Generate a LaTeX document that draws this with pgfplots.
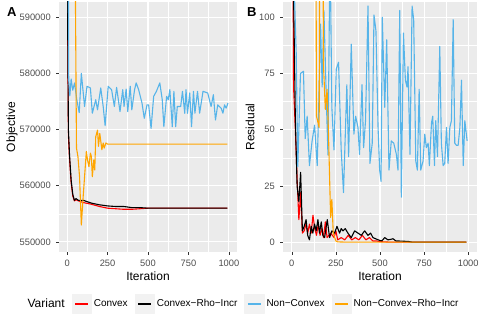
\documentclass[border=0pt]{standalone}
\usepackage{fontspec}
\setmainfont{Liberation Sans}
\usepackage{pgfplots}
\pgfplotsset{compat=1.18}
\definecolor{panelbg}{HTML}{EBEBEB}
\definecolor{tickc}{HTML}{333333}
\definecolor{labc}{HTML}{4D4D4D}
\definecolor{keybg}{HTML}{F2F2F2}
\definecolor{cred}{HTML}{FF0000}
\definecolor{cblue}{HTML}{56B4E9}
\definecolor{corange}{HTML}{FFA500}
\pgfplotsset{
 ggstyle/.style={
  scale only axis,
  axis background/.style={fill=panelbg},
  axis line style={draw=none},
  grid=both,
  major grid style={white, line width=1.1pt},
  minor grid style={white, line width=0.55pt},
  minor tick num=1,
  tick align=outside,
  xtick pos=bottom, ytick pos=left,
  tick style={color=tickc, line width=0.5pt},
  major tick length=2.75pt,
  minor tick length=0pt,
  ticklabel style={font=\fontsize{9.3}{11}\selectfont, text=labc},
  yticklabel style={xshift=-2pt},
  xticklabel style={yshift=-2pt},
  /pgf/number format/assume math mode=true,
  /pgf/number format/1000 sep={},
  /pgf/number format/fixed,
  scaled y ticks=false, scaled x ticks=false,
  label style={font=\fontsize{12}{14}\selectfont},
  xmin=-50, xmax=1050, xtick={0,250,500,750,1000},
  xlabel={Iteration},
  xlabel style={at={(axis description cs:0.5,-0.096)}, anchor=center},
  every axis plot/.append style={line width=1.1pt, line join=round},
 }
}
\begin{document}
\begin{tikzpicture}
\path[use as bounding box] (0,0) rectangle (480pt,320pt);
% Panel A
\begin{axis}[ggstyle,
  at={(59pt,68pt)}, anchor=south west,
  width=178pt, height=250pt,
  ymin=548200, ymax=592700,
  ytick={550000,560000,570000,580000,590000},
  ylabel={Objective},
  ylabel style={at={(axis description cs:-0.264,0.5)}, anchor=center},
]
\addplot[cred] coordinates {
(0,700000)(3,591000)(8,569000)(15,564800)(25,560500)(35,558200)(45,557300)(55,557500)(70,557300)(100,557000)(150,556700)(200,556300)(250,556000)(300,555900)(350,555800)(400,555800)(450,555900)(500,556000)(990,556000)};
\addplot[black] coordinates {
(0,700000)(3,592000)(8,570000)(15,565500)(25,561000)(35,558500)(45,557400)(55,557700)(70,557400)(100,557400)(150,556900)(200,556600)(250,556400)(300,556300)(350,556300)(400,556100)(450,556100)(500,556000)(600,556000)(700,556000)(800,556000)(990,556000)};
\addplot[cblue] coordinates {
(0,700000)(10,578800)(17,576000)(25,579000)(35,577000)(46,578300)(60,575300)(75,573000)(88,580000)(108,574100)(123,577700)(144,577400)(156,572900)(177,575300)(188,573500)(208,577400)(223,574100)(235,570700)(254,577700)(275,577100)(292,574100)(306,577500)(327,573200)(344,577100)(352,574100)(365,577200)(375,573200)(390,577700)(400,573500)(417,577100)(427,578300)(442,577100)(463,574700)(477,572000)(494,574400)(504,574400)(519,570200)(535,575900)(552,576800)(573,578300)(588,575300)(598,570500)(615,575900)(625,575300)(635,577100)(650,570500)(660,576800)(671,570500)(681,574100)(702,574100)(713,576800)(727,572900)(735,577100)(744,572900)(758,576500)(769,570500)(781,576800)(790,572900)(806,576800)(819,572900)(840,576800)(869,576500)(890,574100)(904,576200)(917,571700)(931,574400)(952,573800)(963,572900)(973,574400)(983,573800)(994,574700)};
\addplot[corange] coordinates {
(0,800000)(50,600000)(58,566700)(67,565200)(77,561600)(88,553000)(98,557500)(108,561600)(119,566100)(126,564600)(135,563400)(144,565800)(150,565200)(156,561600)(165,564600)(171,562800)(177,568700)(188,569900)(194,567000)(202,569300)(215,566400)(223,567600)(229,566700)(240,567600)(250,567400)(990,567400)};
\end{axis}
% Panel B
\begin{axis}[ggstyle,
  at={(283pt,68pt)}, anchor=south west,
  width=194pt, height=250pt,
  ymin=-4.4, ymax=106.8,
  ytick={0,25,50,75,100},
  ylabel={Residual},
  ylabel style={at={(axis description cs:-0.170,0.5)}, anchor=center},
  legend image code/.code={
    \fill[keybg] (0pt,-9.5pt) rectangle (19pt,9.5pt);
    \draw[#1] (3pt,0pt) -- (16pt,0pt);},
  legend style={at={(axis description cs:-0.206,-0.208)}, anchor=center,
    draw=none, fill=none, legend columns=5,
    font=\fontsize{10}{12}\selectfont,
    /tikz/every even column/.append style={column sep=5pt}},
  legend cell align=left,
]
\addlegendimage{empty legend}
\addlegendentry{\fontsize{12}{14}\selectfont Variant}
\addplot[cred] coordinates {
(0,250)(10,69)(20,50)(30,28)(40,10)(50,22)(60,4)(70,5)(80,8)(90,4)(100,8)(110,4)(120,12)(130,6)(140,3)(150,8)(160,3)(170,6)(180,2)(190,9)(200,2)(220,4)(240,2)(250,5)(260,1)(280,2)(300,1)(320,3)(340,1)(360,2)(380,1)(400,3)(420,1)(440,2)(460,0.5)(480,0.5)(500,0.2)(550,0)(990,0)};
\addlegendentry{Convex}
\addplot[black] coordinates {
(0,250)(10,110)(20,55)(30,25)(40,18)(50,31)(60,5)(70,7)(81,10)(90,3)(100,1)(110,7)(119,4)(129,8)(138,5)(148,10)(157,4)(167,9)(176,3)(186,2)(201,10)(214,2)(227,5)(242,4)(256,7)(271,4)(280,6)(290,5)(303,6)(318,4)(337,2)(356,5)(375,4)(394,3)(413,5)(432,3)(447,4)(460,2)(475,1.5)(489,1)(510,0.5)(527,2)(545,1)(560,1.2)(574,1.5)(590,0.5)(602,0.5)(630,0.4)(659,0.3)(680,0)(990,0)};
\addlegendentry{Convex\textminus Rho\textminus Incr}
\addplot[cblue] coordinates {
(0,300)(5,150)(15,110)(25,84)(34,33.5)(49,75)(66,76)(76,46)(87,56)(100,34)(115,45)(129,52)(144,34)(151,55)(163,97)(172,69)(182,103)(197,60)(205,38.7)(214,110)(220,110)(227,60)(239,41)(252,77)(265,80)(280,41)(293,22)(312,70)(322,38)(337,88)(352,48)(362,56)(375,51)(384,39)(398,70)(407,42)(418,54)(432,105)(443,35)(456,44)(466,101)(477,94)(489,51)(498,32)(506,27)(513,100)(527,60)(538,90)(551,32)(564,45)(578,44)(593,39)(602,32)(612,103)(621,20)(633,93)(644,72)(653,69)(659,78)(670,39)(682,105)(691,99)(703,36)(712,32)(722,68)(731,32)(744,36)(754,48)(763,42)(773,44)(780,34)(792,53)(799,56)(809,34)(816,54)(826,38)(839,87)(848,44)(858,34)(867,35)(877,51)(886,35)(896,51)(905,54)(915,99)(924,44)(934,43)(943,43)(953,51)(962,72)(972,34)(981,54)(994,45)};
\addlegendentry{Non\textminus Convex}
\addplot[corange] coordinates {
(0,500)(130,300)(140,56)(155,51)(165,300)(180,78)(190,59)(200,68)(208,48)(220,11)(227,19)(235,4)(250,0.5)(260,0.1)(300,0)(990,0)};
\addlegendentry{Non\textminus Convex\textminus Rho\textminus Incr}
\end{axis}
\node[anchor=north west, inner sep=0pt, font=\bfseries\fontsize{13}{14}\selectfont] at (7pt,313pt) {A};
\node[anchor=north west, inner sep=0pt, font=\bfseries\fontsize{13}{14}\selectfont] at (247pt,313pt) {B};
\end{tikzpicture}
\end{document}
